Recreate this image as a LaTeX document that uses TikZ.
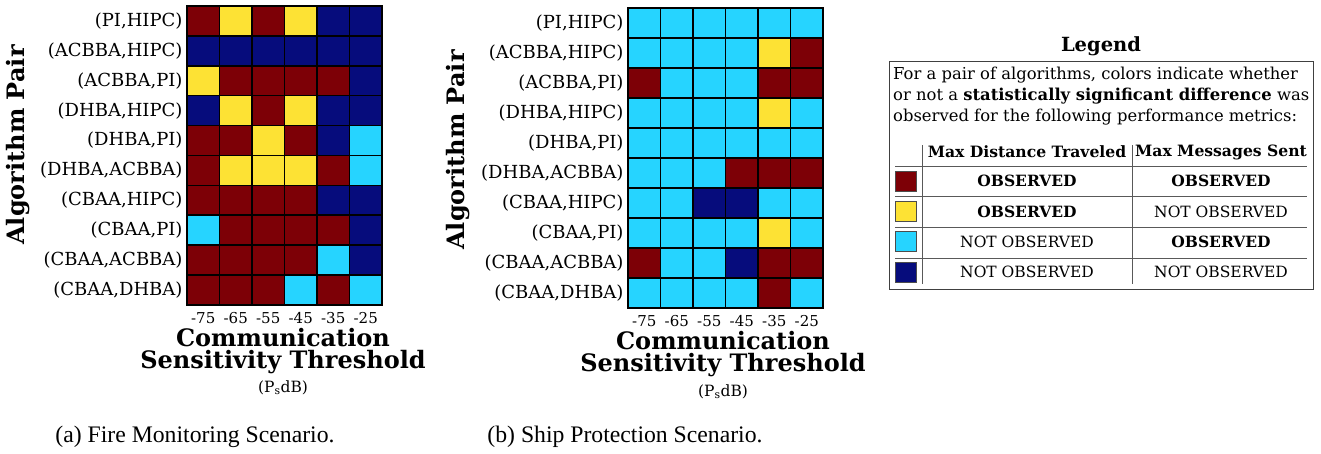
\documentclass[tikz,border=0pt]{standalone}
\usepackage{fontspec}
\setmainfont{DejaVu Serif}
\newfontfamily\capfont{Liberation Serif}
\usetikzlibrary{positioning}

\definecolor{colR}{RGB}{125,0,6}
\definecolor{colY}{RGB}{253,226,52}
\definecolor{colC}{RGB}{38,212,255}
\definecolor{colN}{RGB}{6,12,124}

\tikzset{
  cell/.style={rectangle, draw=black, line width=1.6pt, minimum width=32.5pt, minimum height=30pt, inner sep=0pt},
  rowlab/.style={inner sep=0pt, font=\fontsize{18}{20}\selectfont},
  ticklab/.style={inner sep=0pt, font=\fontsize{15}{16}\selectfont},
  axtitle/.style={inner sep=0pt, align=center, font=\fontsize{24}{22}\selectfont\bfseries},
  unitlab/.style={inner sep=0pt, font=\fontsize{15.5}{18}\selectfont},
  caplab/.style={inner sep=0pt, font=\fontsize{23.7}{26}\selectfont\capfont},
  legline/.style={draw=black!65, line width=1pt},
  legtext/.style={inner sep=0pt, font=\fontsize{16.4}{21}\selectfont},
  tabtext/.style={inner sep=0pt, font=\fontsize{15.5}{18}\selectfont},
  swatch/.style={rectangle, draw=black!70, line width=1pt, minimum width=21pt, minimum height=20pt, inner sep=0pt},
}

\begin{document}
\begin{tikzpicture}[x=1pt, y=-1pt]
  \useasboundingbox (0,0) rectangle (1321,453);

  % (a) fire monitoring grid
  \foreach \row [count=\r] in {{R,Y,R,Y,N,N},{N,N,N,N,N,N},{Y,R,R,R,R,N},{N,Y,R,Y,N,N},{R,R,Y,R,N,C},
                               {R,Y,Y,Y,R,C},{R,R,R,R,N,N},{C,R,R,R,R,N},{R,R,R,R,C,N},{R,R,R,C,R,C}}
    \foreach \c [count=\k] in \row
      \node [cell, fill=col\c] (fa-\r-\k) at ({187+32.5*(\k-0.5)}, {6+29.9*(\r-0.5)}) {};

  % (b) ship protection grid
  \foreach \row [count=\r] in {{C,C,C,C,C,C},{C,C,C,C,Y,R},{R,C,C,C,R,R},{C,C,C,C,Y,C},{C,C,C,C,C,C},
                               {C,C,C,R,R,R},{C,C,N,N,C,C},{C,C,C,C,Y,C},{R,C,C,N,R,R},{C,C,C,C,R,C}}
    \foreach \c [count=\k] in \row
      \node [cell, fill=col\c] (fb-\r-\k) at ({628+32.5*(\k-0.5)}, {8+30*(\r-0.5)}) {};

  % row and column labels
  \foreach \lab [count=\r] in {{(PI,HIPC)},{(ACBBA,HIPC)},{(ACBBA,PI)},{(DHBA,HIPC)},{(DHBA,PI)},
                               {(DHBA,ACBBA)},{(CBAA,HIPC)},{(CBAA,PI)},{(CBAA,ACBBA)},{(CBAA,DHBA)}} {
    \node [rowlab, left=3.5pt of fa-\r-1] (la-\r) {\lab};
    \node [rowlab, left=3.5pt of fb-\r-1] (lb-\r) {\lab};
  }
  \foreach \t [count=\k] in {-75,-65,-55,-45,-35,-25} {
    \node [ticklab] (ta-\k) at ({187+32.5*(\k-0.5)}, 318) {\t};
    \node [ticklab] (tb-\k) at ({628+32.5*(\k-0.5)}, 321) {\t};
  }

  % axis titles
  \node [axtitle, rotate=90] (ya) at (18,145) {Algorithm Pair};
  \node [axtitle, rotate=90] (yb) at (458,150) {Algorithm Pair};
  \node [axtitle] (xa) at (283,351) {Communication\\Sensitivity Threshold};
  \node [axtitle] (xb) at (723,354) {Communication\\Sensitivity Threshold};
  \node [unitlab] (ua) at (283,388) {(P\textsubscript{s}dB)};
  \node [unitlab] (ub) at (723,392) {(P\textsubscript{s}dB)};

  % captions
  \node [caplab] (capa) at (195,437) {(a) Fire Monitoring Scenario.};
  \node [caplab] (capb) at (625,437) {(b) Ship Protection Scenario.};

  % legend
  \node [inner sep=0pt, font=\fontsize{19.5}{22}\selectfont\bfseries] (legtitle) at (1101,46) {Legend};
  \node [draw=black!75, line width=1pt, minimum width=424pt, minimum height=228pt] (legbox) at (1101,175) {};
  \node [legtext, anchor=base west] (lt-1) at (893,79) {For a pair of algorithms, colors indicate whether};
  \node [legtext, anchor=base west] (lt-2) at (893,100) {or not a \textbf{statistically significant difference} was};
  \node [legtext, anchor=base west] (lt-3) at (893,121) {observed for the following performance metrics:};

  \draw [legline] (922,145) -- (922,284);
  \draw [legline] (1132,145) -- (1132,284);
  \foreach \y in {166,196,227,258}
    \draw [legline] (895,\y) -- (1307,\y);
  \node [tabtext, font=\fontsize{15.6}{18}\selectfont\bfseries] (hd-1) at (1027,152) {Max Distance Traveled};
  \node [tabtext, font=\fontsize{15.6}{18}\selectfont\bfseries] (hd-2) at (1221,152) {Max Messages Sent};
  \foreach \c/\da/\mb [count=\r] in {R/\textbf{OBSERVED}/\textbf{OBSERVED}, Y/\textbf{OBSERVED}/NOT OBSERVED,
                                     C/NOT OBSERVED/\textbf{OBSERVED}, N/NOT OBSERVED/NOT OBSERVED} {
    \node [swatch, fill=col\c] (sw-\r) at (906,{151+30.3*\r}) {};
    \node [tabtext] (da-\r) at (1027,{151+30.3*\r}) {\da};
    \node [tabtext] (mb-\r) at (1221,{151+30.3*\r}) {\mb};
  }
\end{tikzpicture}
\end{document}
